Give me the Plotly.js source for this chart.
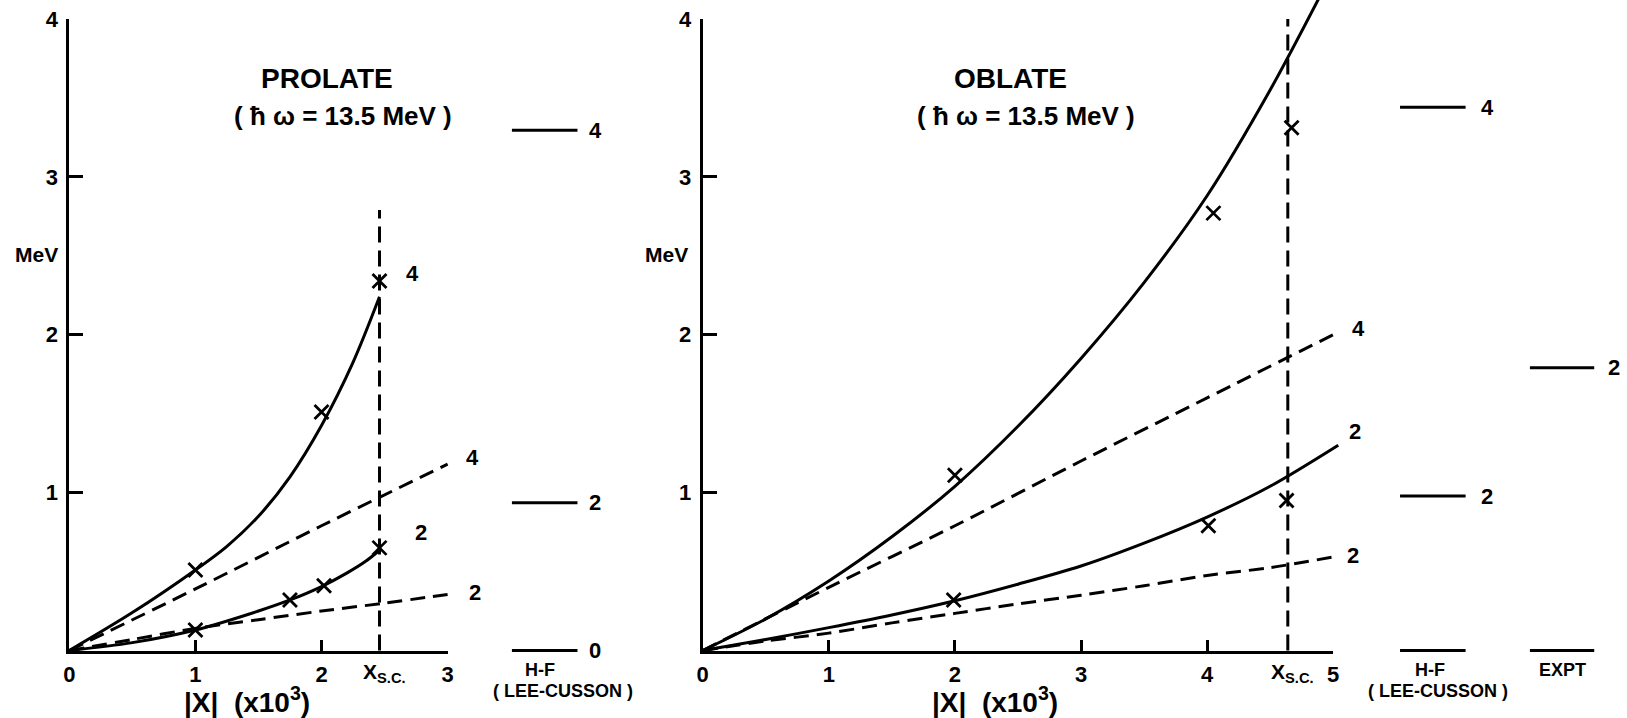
<!DOCTYPE html>
<html>
<head>
<meta charset="utf-8">
<script src="https://cdn.plot.ly/plotly-3.0.1.min.js"></script>
<style>html,body{margin:0;padding:0;background:#fff;}#chart{width:1627px;height:718px;}</style>
</head>
<body>
<div id="chart"></div>
<script>
// ---------- DATA ----------
// PROLATE panel (|X| in units of 10^-3, energies in MeV)
const prolSolid4X = [0, 0.5, 1, 1.25, 1.5, 1.75, 2, 2.25, 2.46];
const prolSolid4Y = [0, 0.24, 0.51, 0.66, 0.85, 1.10, 1.425, 1.825, 2.24];
const prolSolid2X = [0, 0.5, 1, 1.5, 1.75, 2, 2.2, 2.35, 2.46];
const prolSolid2Y = [0, 0.05, 0.13, 0.25, 0.32, 0.405, 0.49, 0.565, 0.635];
const prolDash4X = [0, 1, 2, 3];
const prolDash4Y = [0, 0.39, 0.79, 1.18];
const prolDash2X = [0, 0.5, 1, 1.5, 2, 2.5, 3];
const prolDash2Y = [0, 0.07, 0.14, 0.195, 0.25, 0.3, 0.355];
const prolMark4X = [1, 2, 2.46];
const prolMark4Y = [0.51, 1.51, 2.34];
const prolMark2X = [1, 1.75, 2.02, 2.46];
const prolMark2Y = [0.13, 0.32, 0.41, 0.65];
const prolXsc = 2.46;
const prolXscTop = 2.79;
const prolHF = [0, 0.935, 3.295];
const prolHFSpin = ['0', '2', '4'];

// OBLATE panel
const oblSolid4X = [0, 0.5, 1, 1.5, 2, 2.5, 3, 3.5, 4, 4.5, 4.886];
const oblSolid4Y = [0, 0.2, 0.44, 0.72, 1.04, 1.42, 1.85, 2.33, 2.88, 3.55, 4.13];
const oblSolid2X = [0, 0.5, 1, 1.5, 2, 2.5, 3, 3.5, 4, 4.5, 5.04];
const oblSolid2Y = [0, 0.07, 0.145, 0.225, 0.315, 0.42, 0.535, 0.68, 0.845, 1.04, 1.3];
const oblDash4X = [0, 1, 2, 3, 4, 5.05];
const oblDash4Y = [0, 0.40, 0.79, 1.2, 1.6, 2.02];
const oblDash2X = [0, 0.5, 1, 1.5, 2, 2.5, 3, 3.5, 4, 4.5, 5.02];
const oblDash2Y = [0, 0.06, 0.11, 0.175, 0.235, 0.295, 0.35, 0.41, 0.475, 0.525, 0.595];
const oblMark4X = [2, 4.05, 4.67];
const oblMark4Y = [1.11, 2.77, 3.31];
const oblMark2X = [1.99, 4.01, 4.63];
const oblMark2Y = [0.32, 0.79, 0.95];
const oblXsc = 4.64;
const oblXscTop = 4.0;
const oblHF = [0, 0.978, 3.44];
const oblHFSpin = ['', '2', '4'];
const exptLevels = [0, 1.79];
const exptSpin = ['', '2'];

const xTicksL = [0, 1, 2, 3];
const xTicksR = [0, 1, 2, 3, 4, 5];
const yTicks = [1, 2, 3, 4];

// ---------- LAYOUT GEOMETRY ----------
const W = 1627, H = 718;
const X0L = 69.3, X0R = 702.7, UX = 126.1, Y0 = 650.5, UY = 157.9;
const FONT = 'Liberation Sans, Arial, sans-serif';
const BLK = '#000';
const LW = 3;
const DASH = '15px,8px';
const PADU = 0.06; // extra room below/left of zero on the hidden axes (avoids clipping)

const yDomVis = [(H - Y0) / H, (H - Y0 + 4 * UY) / H];
const yDomHid = [(H - Y0 - PADU * UY) / H, 1];
const yTopHid = Y0 / UY;
const xLmaxHid = 4.6, xRmaxHid = 7.3;

// column positions for level diagrams (in panel data units)
const hfLX = [3.51, 4.03], hfLLab = 4.17;
const hfRX = [5.53, 6.05], hfRLab = 6.22;
const exRX = [6.56, 7.07], exRLab = 7.23;

// ---------- TRACES ----------
function line(x, y, xa, ya, dash) {
  return {x: x, y: y, xaxis: xa, yaxis: ya, mode: 'lines', type: 'scatter',
    line: {color: BLK, width: LW, dash: dash || 'solid', shape: 'spline', smoothing: 0.9},
    hoverinfo: 'skip', showlegend: false};
}
function marks(x, y, xa, ya) {
  return {x: x, y: y, xaxis: xa, yaxis: ya, mode: 'markers', type: 'scatter', cliponaxis: false,
    marker: {symbol: 'x-thin', size: 14, color: BLK, line: {color: BLK, width: 2.8}},
    hoverinfo: 'skip', showlegend: false};
}
function levels(vals, xr, xa, ya) {
  const x = [], y = [];
  vals.forEach(v => { x.push(xr[0], xr[1], null); y.push(v, v, null); });
  return {x: x, y: y, xaxis: xa, yaxis: ya, mode: 'lines', type: 'scatter',
    line: {color: BLK, width: LW}, hoverinfo: 'skip', showlegend: false};
}

const traces = [
  {x: [], y: [], xaxis: 'x', yaxis: 'y', type: 'scatter', showlegend: false},
  {x: [], y: [], xaxis: 'x2', yaxis: 'y2', type: 'scatter', showlegend: false},
  // prolate
  line(prolSolid4X, prolSolid4Y, 'x3', 'y3'),
  line(prolSolid2X, prolSolid2Y, 'x3', 'y3'),
  line(prolDash4X, prolDash4Y, 'x3', 'y3', DASH),
  line(prolDash2X, prolDash2Y, 'x3', 'y3', DASH),
  line([prolXsc, prolXsc], [0, prolXscTop], 'x3', 'y3', '16px,8px'),
  marks(prolMark4X, prolMark4Y, 'x3', 'y3'),
  marks(prolMark2X, prolMark2Y, 'x3', 'y3'),
  levels(prolHF, hfLX, 'x3', 'y3'),
  // oblate
  line(oblSolid4X, oblSolid4Y, 'x4', 'y4'),
  line(oblSolid2X, oblSolid2Y, 'x4', 'y4'),
  line(oblDash4X, oblDash4Y, 'x4', 'y4', DASH),
  line(oblDash2X, oblDash2Y, 'x4', 'y4', DASH),
  line([oblXsc, oblXsc], [0, oblXscTop], 'x4', 'y4', '16px,8px'),
  marks(oblMark4X, oblMark4Y, 'x4', 'y4'),
  marks(oblMark2X, oblMark2Y, 'x4', 'y4'),
  levels(oblHF, hfRX, 'x4', 'y4'),
  levels(exptLevels, exRX, 'x4', 'y4')
];

// ---------- ANNOTATIONS (paper coordinates from pixel / data positions) ----------
function annPx(px, py, text, size, xanchor) {
  return {xref: 'paper', yref: 'paper', x: px / W, y: 1 - py / H, text: text, showarrow: false,
    xanchor: xanchor || 'center', yanchor: 'middle',
    font: {family: FONT, size: size, color: BLK, weight: 'bold'}};
}
const annL = (x, y, t, s, a) => annPx(X0L + x * UX, Y0 - y * UY, t, s, a);
const annR = (x, y, t, s, a) => annPx(X0R + x * UX, Y0 - y * UY, t, s, a);

const annotations = [
  // prolate
  annPx(327, 78, 'PROLATE', 28),
  annPx(343, 116, '( ħ ω = 13.5 MeV )', 26),
  annPx(36, 255, 'MeV', 21),
  annL(2.72, 2.385, '4', 22),
  annL(2.79, 0.75, '2', 22),
  annL(3.2, 1.22, '4', 22),
  annL(3.22, 0.366, '2', 22),
  annPx(361, 673, 'X<sub>S.C.</sub>', 21, 'left'),
  annPx(247, 700, '|X|  (x10<sup>3</sup>)', 28),
  annPx(540, 670, 'H-F', 18),
  annPx(563, 691, '( LEE-CUSSON )', 18),
  // oblate
  annPx(1010, 78, 'OBLATE', 28),
  annPx(1026, 116, '( ħ ω = 13.5 MeV )', 26),
  annPx(666, 255, 'MeV', 21),
  annR(5.2, 2.04, '4', 22),
  annR(5.17, 1.39, '2', 22),
  annR(5.16, 0.60, '2', 22),
  annPx(1269, 673, 'X<sub>S.C.</sub>', 21, 'left'),
  annPx(995, 700, '|X|  (x10<sup>3</sup>)', 28),
  annPx(1430, 670, 'H-F', 18),
  annPx(1438, 691, '( LEE-CUSSON )', 18),
  annPx(1562, 670, 'EXPT', 18)
];
prolHF.forEach((v, i) => { if (prolHFSpin[i]) annotations.push(annL(hfLLab, v, prolHFSpin[i], 22)); });
oblHF.forEach((v, i) => { if (oblHFSpin[i]) annotations.push(annR(hfRLab, v, oblHFSpin[i], 22)); });
exptLevels.forEach((v, i) => { if (exptSpin[i]) annotations.push(annR(exRLab, v, exptSpin[i], 22)); });

// ---------- AXES ----------
const tickFont = {family: FONT, size: 22, color: BLK, weight: 'bold'};
function visX(dom, range, ticks, anchor) {
  return {domain: dom, range: range, anchor: anchor, showgrid: false, zeroline: false,
    showline: true, linecolor: BLK, linewidth: LW, ticks: 'inside', ticklen: 11, tickwidth: LW,
    tickcolor: BLK, tickvals: ticks, ticktext: ticks.map(String), fixedrange: true,
    ticklabelstandoff: 2, tickfont: tickFont};
}
function visY(range, ticks, anchor) {
  return {domain: yDomVis, range: range, anchor: anchor, showgrid: false, zeroline: false,
    showline: true, linecolor: BLK, linewidth: LW, ticks: 'inside', ticklen: 14, tickwidth: LW,
    tickcolor: BLK, tickvals: ticks, ticktext: ticks.map(String), fixedrange: true,
    ticklabelstandoff: 4, tickfont: tickFont};
}
function hidAxis(dom, range, anchor) {
  return {domain: dom, range: range, anchor: anchor, visible: false, fixedrange: true,
    showgrid: false, zeroline: false};
}

const layout = {
  width: W, height: H,
  margin: {l: 0, r: 0, t: 0, b: 0, pad: 0},
  paper_bgcolor: '#fff', plot_bgcolor: 'rgba(0,0,0,0)',
  showlegend: false,
  xaxis: visX([X0L / W, (X0L + 3 * UX) / W], [0, 3], xTicksL, 'y'),
  yaxis: visY([0, 4], yTicks, 'x'),
  xaxis2: visX([X0R / W, (X0R + 5 * UX) / W], [0, 5], xTicksR, 'y2'),
  yaxis2: visY([0, 4], yTicks, 'x2'),
  xaxis3: hidAxis([(X0L - PADU * UX) / W, (X0L + xLmaxHid * UX) / W], [-PADU, xLmaxHid], 'y3'),
  yaxis3: hidAxis(yDomHid, [-PADU, yTopHid], 'x3'),
  xaxis4: hidAxis([(X0R - PADU * UX) / W, (X0R + xRmaxHid * UX) / W], [-PADU, xRmaxHid], 'y4'),
  yaxis4: hidAxis(yDomHid, [-PADU, yTopHid], 'x4'),
  annotations: annotations
};

Plotly.newPlot('chart', traces, layout, {displayModeBar: false, staticPlot: true}).then(() => {
  // drop empty placeholder texts and Plotly's off-screen text-measuring helper
  document.querySelectorAll('text').forEach(t => {
    if (!t.textContent || !t.textContent.trim()) t.remove();
  });
  const tester = document.getElementById('js-plotly-tester');
  if (tester) tester.remove();
});
</script>
</body>
</html>
